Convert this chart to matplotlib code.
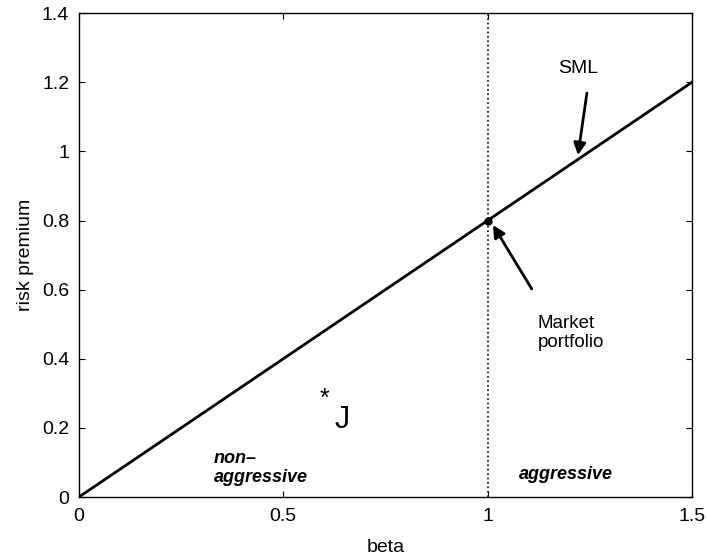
import numpy as np
import matplotlib.pyplot as plt
from matplotlib.ticker import FuncFormatter

# SML data
beta = [0.0, 1.5]
premium = [0.0, 1.2]
market_beta = 1.0
market_premium = 0.8
xticks = [0, 0.5, 1, 1.5]
yticks = [0, 0.2, 0.4, 0.6, 0.8, 1.0, 1.2, 1.4]

plt.rcParams['font.family'] = ['Liberation Sans', 'DejaVu Sans']

fig = plt.figure(figsize=(7.07, 5.6), dpi=100)
ax = fig.add_axes([0.1117, 0.1125, 0.867, 0.864])

ax.plot(beta, premium, color='k', linewidth=2)
ax.plot([market_beta, market_beta], [0, 1.4], color='k', linestyle=':', linewidth=1.2)
ax.plot(market_beta, market_premium, 'o', color='k', markersize=5)

ax.set_xlim(0, 1.5)
ax.set_ylim(0, 1.4)
ax.set_xticks(xticks)
ax.set_yticks(yticks)
fmt = FuncFormatter(lambda v, p: ('%g' % v))
ax.xaxis.set_major_formatter(fmt)
ax.yaxis.set_major_formatter(fmt)
ax.tick_params(direction='in', top=True, right=True, labelsize=14, length=4, width=0.8)
ax.tick_params(axis='x', pad=8)
ax.tick_params(axis='y', pad=7)
for s in ax.spines.values():
    s.set_linewidth(1)

ax.set_xlabel('beta', fontsize=14, labelpad=10)
ax.set_ylabel('risk premium', fontsize=14, labelpad=6)

# annotations
arrow = dict(arrowstyle='-|>', color='k', lw=2, mutation_scale=18, shrinkA=0, shrinkB=0)
ax.annotate('', xy=(1.221, 0.989), xytext=(1.243, 1.169), arrowprops=arrow)
ax.text(1.221, 1.241, 'SML', fontsize=14, ha='center', va='center')

ax.annotate('', xy=(1.013, 0.787), xytext=(1.108, 0.602), arrowprops=arrow)
ax.text(1.123, 0.474, 'Market\nportfolio', fontsize=13.5, ha='left', va='center', linespacing=1.15)

ax.text(0.602, 0.284, '*', fontsize=18, ha='center', va='center')
ax.text(0.643, 0.223, 'J', fontsize=22, ha='center', va='center')

ax.text(0.33, 0.084, 'non\u2013\naggressive', fontsize=13, ha='left', va='center',
        fontweight='bold', fontstyle='italic', linespacing=1.2)
ax.text(1.077, 0.064, 'aggressive', fontsize=13, ha='left', va='center',
        fontweight='bold', fontstyle='italic')

plt.savefig('out.png', dpi=100)
